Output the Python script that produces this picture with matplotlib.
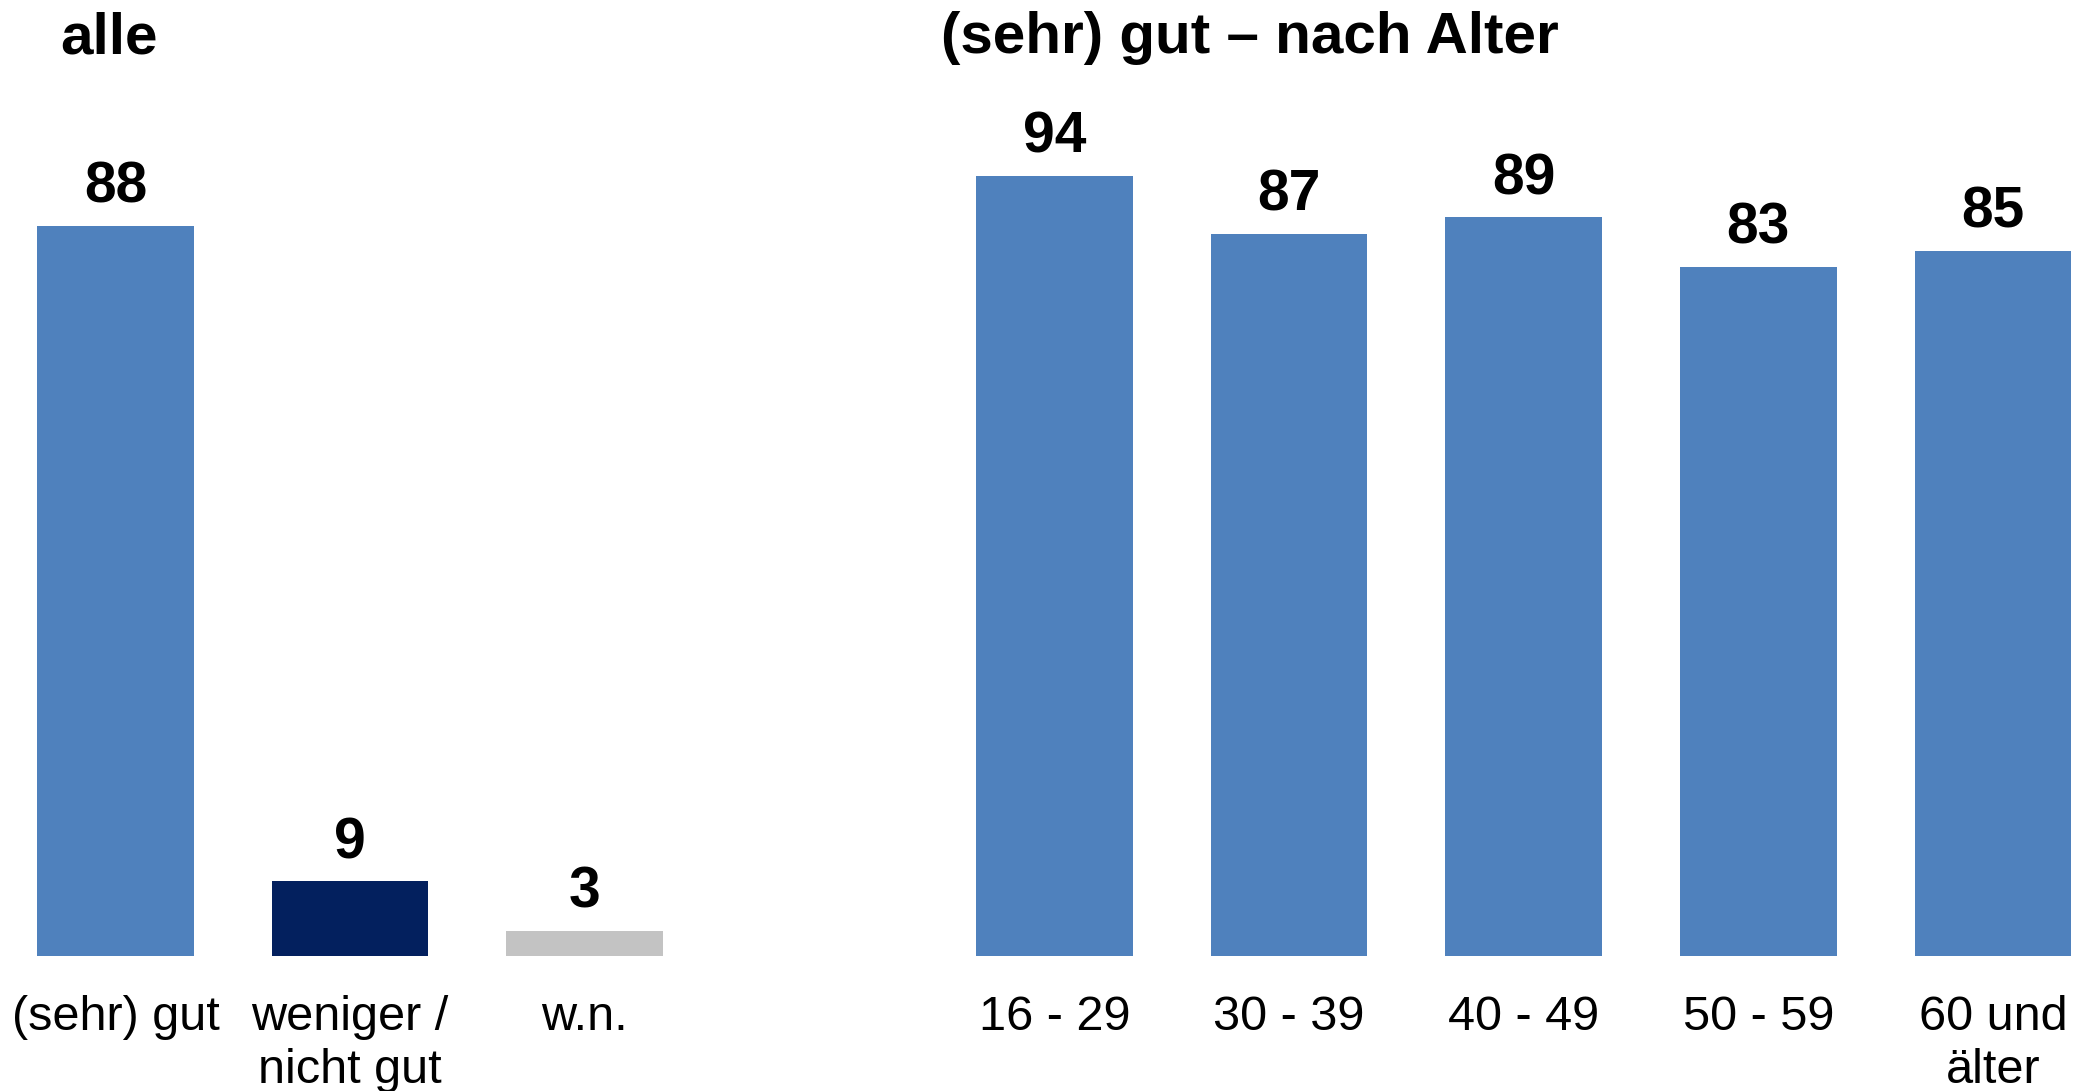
import matplotlib
matplotlib.use("Agg")
import matplotlib.pyplot as plt

plt.rcParams['font.family'] = ['Liberation Sans', 'DejaVu Sans']

# Data
left_title = "alle"
left_categories = ["(sehr) gut", "weniger /\nnicht gut", "w.n."]
left_values = [88, 9, 3]
left_colors = ["#4F81BD", "#03205E", "#C3C3C3"]

right_title = "(sehr) gut – nach Alter"
right_categories = ["16 - 29", "30 - 39", "40 - 49", "50 - 59", "60 und\nälter"]
right_values = [94, 87, 89, 83, 85]
right_color = "#4F81BD"

W, H = 2087, 1091
fig = plt.figure(figsize=(W / 100, H / 100), dpi=100)

base_px = 956          # baseline of bars (from top)
px_per_unit = 8.3
ymax = 110
ax_h = ymax * px_per_unit
bottom = (H - base_px) / H
height = ax_h / H

slot = 234.6
width_frac = 0.667

def make_axes(left_px, n):
    ax = fig.add_axes([left_px / W, bottom, n * slot / W, height])
    ax.set_xlim(-0.5, n - 0.5)
    ax.set_ylim(0, ymax)
    for s in ax.spines.values():
        s.set_visible(False)
    ax.set_yticks([])
    ax.tick_params(axis='x', length=0, pad=28, labelsize=35)
    return ax

# Left panel
axL = make_axes(115.5 - slot / 2, len(left_values))
xl = list(range(len(left_values)))
axL.bar(xl, left_values, width=width_frac, color=left_colors)
axL.set_xticks(xl)
axL.set_xticklabels(left_categories, linespacing=1.22)
for x, v in zip(xl, left_values):
    axL.annotate(str(v), (x, v), xytext=(0, 8), textcoords='offset points',
                 ha='center', va='bottom', fontsize=41, fontweight='bold')

# Right panel
axR = make_axes(1054.5 - slot / 2, len(right_values))
xr = list(range(len(right_values)))
axR.bar(xr, right_values, width=width_frac, color=right_color)
axR.set_xticks(xr)
axR.set_xticklabels(right_categories, linespacing=1.22)
for x, v in zip(xr, right_values):
    axR.annotate(str(v), (x, v), xytext=(0, 8), textcoords='offset points',
                 ha='center', va='bottom', fontsize=41, fontweight='bold')

# Titles
fig.text(60 / W, 1 - 53 / H, left_title, fontsize=42, fontweight='bold',
         ha='left', va='baseline')
fig.text(941 / W, 1 - 53 / H, right_title, fontsize=42, fontweight='bold',
         ha='left', va='baseline')

fig.savefig("out.png", dpi=100, facecolor='white')
